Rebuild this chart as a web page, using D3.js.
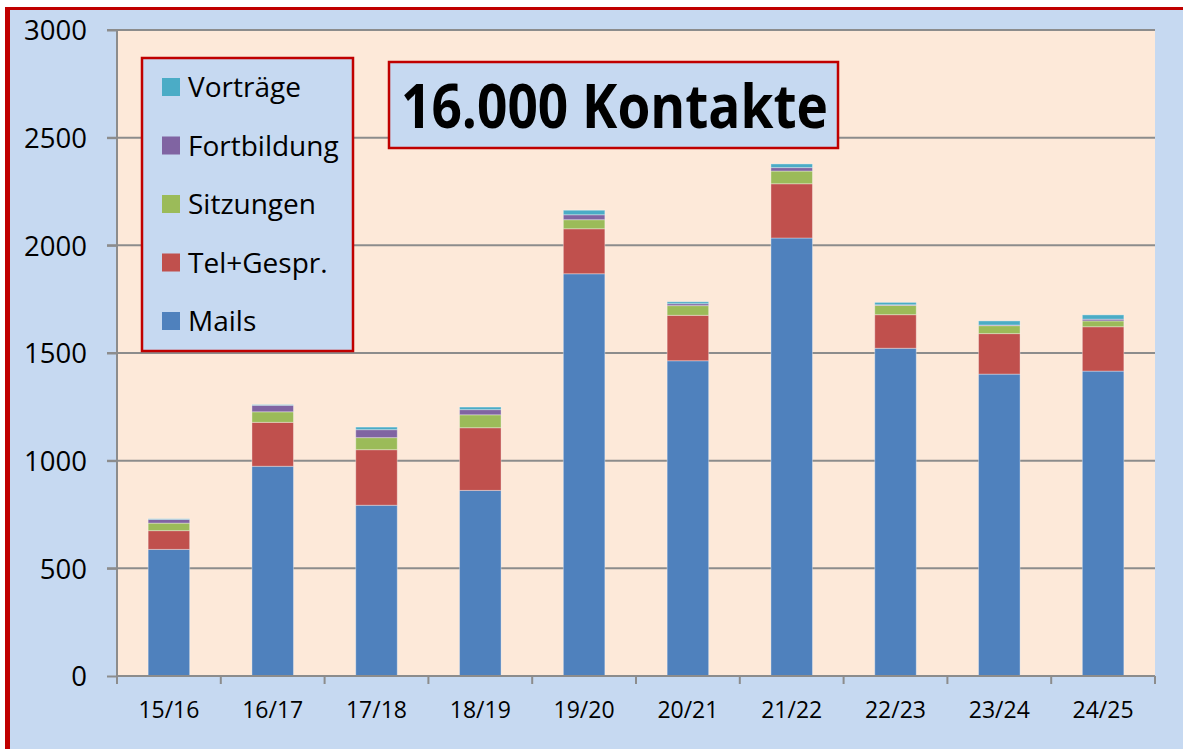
<!DOCTYPE html>
<html lang="de">
<head>
  <meta charset="UTF-8">
  <title>16.000 Kontakte</title>
  <style>
    html, body {
      margin: 0;
      padding: 0;
      width: 100%;
      height: 100%;
      background: #fff;
      overflow: hidden;
    }
    svg {
      display: block;
      font-family: 'Open Sans', sans-serif;
    }
  </style>
</head>
<body>
  <svg id="chart" width="1183" height="749"></svg>

  <script src="https://d3js.org/d3.v7.min.js"></script>
  <script>
    // data
    const years = ["15/16", "16/17", "17/18", "18/19", "19/20", "20/21", "21/22", "22/23", "23/24", "24/25"];
    const mails       = [588, 974, 793, 862, 1868, 1464, 2034, 1522, 1402, 1416];
    const telGespr    = [87, 204, 258, 291, 209, 211, 252, 156, 188, 206];
    const sitzungen   = [35, 49, 56, 60, 42, 45, 59, 43, 37, 27];
    const fortbildung = [17, 30, 37, 24, 23, 9, 16, 3, 3, 8];
    const vortraege   = [3, 3, 12, 12, 21, 9, 17, 11, 19, 20];
    const seriesNames = ["Mails", "Tel+Gespr.", "Sitzungen", "Fortbildung", "Vorträge"];
    const yTicks = [0, 500, 1000, 1500, 2000, 2500, 3000];
    const title = "16.000 Kontakte";

    const colors = ["#4f81bd", "#c0504d", "#9bbb59", "#8064a2", "#4bacc6"];
    const seriesVals = [mails, telGespr, sitzungen, fortbildung, vortraege];

    const rows = years.map((y, i) => {
      const r = { year: y };
      seriesNames.forEach((s, k) => r[s] = seriesVals[k][i]);
      return r;
    });

    const svg = d3.select("#chart");

    // outer background + red frame (only top/left visible)
    svg.append("rect").attr("x", 5).attr("y", 7).attr("width", 1200).attr("height", 760)
      .attr("fill", "#c6d9f1");
    svg.append("rect").attr("x", 5).attr("y", 7).attr("width", 1200).attr("height", 3).attr("fill", "#c00000");
    svg.append("rect").attr("x", 5).attr("y", 7).attr("width", 5).attr("height", 760).attr("fill", "#c00000");

    const plot = { left: 117, right: 1155, top: 30, bottom: 676 };

    const x = d3.scaleBand().domain(years).range([plot.left, plot.right]).paddingInner(0.6).paddingOuter(0.3);
    const xb = d3.scaleBand().domain(years).range([plot.left, plot.right]);
    const y = d3.scaleLinear().domain([0, 3000]).range([plot.bottom, plot.top]);

    // plot area
    svg.append("rect")
      .attr("x", plot.left).attr("y", plot.top)
      .attr("width", plot.right - plot.left).attr("height", plot.bottom - plot.top)
      .attr("fill", "#fde9d9");

    // gridlines
    svg.append("g").selectAll("line").data(yTicks.filter(d => d > 0)).join("line")
      .attr("x1", plot.left - 10).attr("x2", plot.right)
      .attr("y1", d => y(d)).attr("y2", d => y(d))
      .attr("stroke", "#8c8c8c").attr("stroke-width", 2);

    // bars
    const stack = d3.stack().keys(seriesNames)(rows);
    svg.append("g").selectAll("g").data(stack).join("g")
      .attr("fill", (d, i) => colors[i])
      .selectAll("rect").data(d => d).join("rect")
      .attr("x", d => x(d.data.year))
      .attr("width", x.bandwidth())
      .attr("y", d => y(d[1]))
      .attr("height", d => y(d[0]) - y(d[1]))
      .attr("stroke", "rgba(255,255,255,0.35)")
      .attr("stroke-width", 1);

    // y axis
    const yAxis = svg.append("g").attr("transform", `translate(${plot.left},0)`)
      .call(d3.axisLeft(y).tickValues(yTicks).tickSize(10).tickPadding(20).tickFormat(d3.format("d")));
    yAxis.select(".domain").attr("stroke", "#8c8c8c").attr("stroke-width", 2).attr("d", `M0,${plot.top}V${plot.bottom}`);
    yAxis.selectAll(".tick line").attr("stroke", "#8c8c8c").attr("stroke-width", 2);
    yAxis.selectAll(".tick text").attr("font-size", 27.5).attr("fill", "#000")
      .attr("font-family", "'Open Sans', sans-serif").attr("dy", "0.36em");

    // x axis
    const xAxis = svg.append("g").attr("transform", `translate(0,${plot.bottom})`);
    xAxis.append("line").attr("x1", plot.left).attr("x2", plot.right)
      .attr("stroke", "#8c8c8c").attr("stroke-width", 2);
    xAxis.selectAll("line.tk").data(years.concat(["end"])).join("line").attr("class", "tk")
      .attr("x1", (d, i) => i < years.length ? xb(d) : plot.right)
      .attr("x2", (d, i) => i < years.length ? xb(d) : plot.right)
      .attr("y1", 0).attr("y2", 8)
      .attr("stroke", "#8c8c8c").attr("stroke-width", 2);
    xAxis.selectAll("text").data(years).join("text")
      .attr("x", d => xb(d) + xb.bandwidth() / 2)
      .attr("y", 42)
      .attr("text-anchor", "middle")
      .attr("font-size", 23)
      .text(d => d);

    // legend
    const lg = svg.append("g");
    lg.append("rect").attr("x", 142).attr("y", 58).attr("width", 211).attr("height", 293)
      .attr("fill", "#c6d9f1").attr("stroke", "#c00000").attr("stroke-width", 2.5);
    const legendOrder = seriesNames.slice().reverse();
    const li = lg.selectAll("g.item").data(legendOrder).join("g").attr("class", "item")
      .attr("transform", (d, i) => `translate(162,${87 + i * 58.5})`);
    li.append("rect").attr("x", 0).attr("y", -9).attr("width", 18).attr("height", 18)
      .attr("fill", d => colors[seriesNames.indexOf(d)]);
    li.append("text").attr("x", 26).attr("y", 0).attr("dy", "0.36em")
      .attr("font-size", 28).text(d => d);

    // title box
    svg.append("rect").attr("x", 389).attr("y", 62).attr("width", 449).attr("height", 86)
      .attr("fill", "#c6d9f1").attr("stroke", "#c00000").attr("stroke-width", 2.5);
    svg.append("text").attr("x", 401).attr("y", 128)
      .attr("font-size", 60).attr("font-weight", "bold")
      .attr("textLength", 427).attr("lengthAdjust", "spacingAndGlyphs")
      .text(title);
  </script>
</body>
</html>
